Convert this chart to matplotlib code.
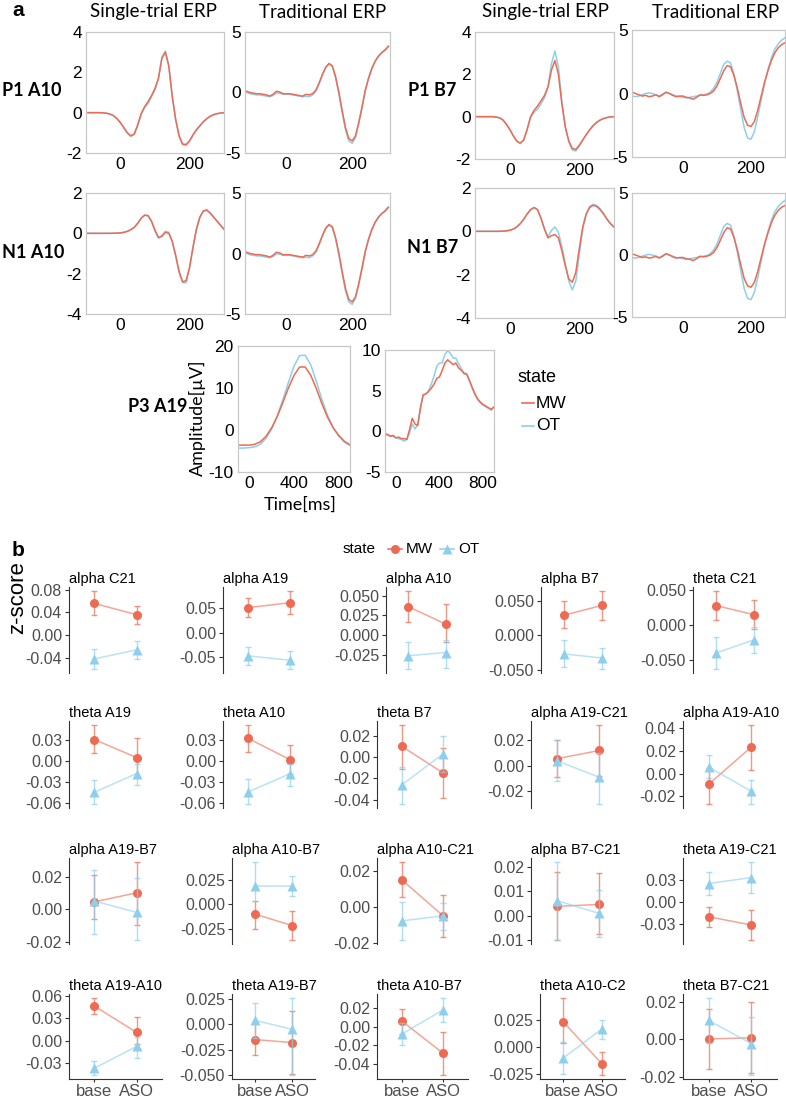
import numpy as np
import matplotlib
matplotlib.use("Agg")
import matplotlib.pyplot as plt
from matplotlib.lines import Line2D

plt.rcParams["axes.unicode_minus"] = False

W, H = 786, 1100
MW_RED = "#EF6A52"
OT_BLUE = "#8DCFEC"
SANS = "Liberation Sans"
CAL = "Lato"

# ---------------- panel a: ERP traces (uV) ----------------
T_ST = list(range(-100, 301, 10))          # single-trial time axis, ms
T_TR_A10 = list(range(-130, 311, 10))      # traditional A10
T_TR_B7 = list(range(-150, 301, 10))       # traditional B7
T_P3_ST = list(range(-100, 901, 50))
T_P3_TR = list(range(-100, 901, 25))

P1_A10_ST_MW = [0, 0, 0, 0, 0, -0.01, -0.03, -0.07, -0.15, -0.3,
                -0.5, -0.75, -1.0, -1.15, -1.05, -0.6, -0.05, 0.3, 0.55, 0.85,
                1.2, 1.7, 2.7, 3.0, 2.3, 0.8, -0.35, -1.15, -1.55, -1.58,
                -1.4, -1.1, -0.85, -0.65, -0.45, -0.3, -0.18, -0.1, -0.05, -0.02, 0]
P1_A10_ST_OT = [0, 0, 0, 0, 0, -0.01, -0.03, -0.07, -0.15, -0.3,
                -0.5, -0.76, -1.02, -1.18, -1.08, -0.62, -0.07, 0.25, 0.45, 0.8,
                1.15, 1.7, 2.75, 3.05, 2.35, 0.82, -0.36, -1.18, -1.6, -1.62,
                -1.42, -1.12, -0.86, -0.66, -0.46, -0.3, -0.18, -0.1, -0.05, -0.02, 0]
N1_A10_ST_MW = [0, 0, 0, 0, 0, 0, 0, 0, 0.005, 0.01,
                0.02, 0.05, 0.1, 0.18, 0.3, 0.5, 0.75, 0.9, 0.88, 0.6,
                0.15, -0.2, -0.15, 0.05, 0.0, -0.4, -1.1, -1.9, -2.4, -2.35,
                -1.7, -0.7, 0.2, 0.8, 1.1, 1.15, 1.0, 0.8, 0.6, 0.4, 0.2]
N1_A10_ST_OT = [0, 0, 0, 0, 0, 0, 0, 0, 0.005, 0.01,
                0.02, 0.05, 0.1, 0.18, 0.3, 0.5, 0.75, 0.9, 0.86, 0.58,
                0.12, -0.25, -0.1, 0.1, 0.05, -0.38, -1.12, -1.95, -2.45, -2.45,
                -1.75, -0.72, 0.2, 0.8, 1.12, 1.17, 1.02, 0.82, 0.6, 0.4, 0.2]
TR_A10_MW = [0.15, 0.1, 0.0, -0.05, -0.1, -0.1, -0.15, -0.2, -0.3, -0.15,
             0.1, 0.05, -0.1, -0.1, -0.1, -0.15, -0.2, -0.25, -0.3, -0.15,
             -0.2, -0.1, 0.2, 0.8, 1.5, 2.1, 2.4, 2.2, 1.3, 0.0,
             -1.5, -2.9, -3.8, -4.0, -3.6, -2.5, -1.2, 0.2, 1.2, 2.0,
             2.6, 3.0, 3.3, 3.5, 3.8]
TR_A10_OT = [0.05, 0.0, -0.1, -0.15, -0.2, -0.2, -0.25, -0.3, -0.35, -0.25,
             -0.05, -0.05, -0.15, -0.15, -0.15, -0.2, -0.25, -0.3, -0.35, -0.3,
             -0.35, -0.2, 0.1, 0.7, 1.45, 2.05, 2.35, 2.15, 1.2, -0.15,
             -1.7, -3.1, -4.0, -4.2, -3.75, -2.6, -1.3, 0.1, 1.15, 1.95,
             2.55, 3.0, 3.3, 3.55, 3.85]
P1_B7_ST_MW = [0, 0, 0, 0, 0, 0, -0.02, -0.05, -0.15, -0.35,
               -0.6, -0.9, -1.15, -1.25, -1.1, -0.6, 0.0, 0.3, 0.5, 0.75,
               1.0, 1.4, 2.2, 2.65, 2.0, 0.6, -0.5, -1.15, -1.5, -1.55,
               -1.35, -1.1, -0.85, -0.62, -0.42, -0.27, -0.16, -0.09, -0.04, -0.01, 0]
P1_B7_ST_OT = [0, 0, 0, 0, 0, 0, -0.02, -0.05, -0.15, -0.35,
               -0.6, -0.9, -1.15, -1.27, -1.12, -0.62, -0.02, 0.2, 0.35, 0.6,
               0.9, 1.4, 2.5, 3.1, 2.35, 0.7, -0.5, -1.2, -1.58, -1.62,
               -1.4, -1.12, -0.86, -0.63, -0.43, -0.27, -0.16, -0.09, -0.04, -0.01, 0]
N1_B7_ST_MW = [0, 0, 0, 0, 0, 0, 0, 0, 0.01, 0.02,
               0.05, 0.1, 0.2, 0.35, 0.55, 0.8, 1.0, 1.1, 1.0, 0.6,
               0.1, -0.3, -0.2, -0.15, -0.3, -0.9, -1.6, -2.2, -2.35, -1.9,
               -0.8, 0.2, 0.8, 1.1, 1.2, 1.15, 1.0, 0.8, 0.55, 0.35, 0.2]
N1_B7_ST_OT = [0, 0, 0, 0, 0, 0, 0, 0, 0.01, 0.02,
               0.05, 0.1, 0.2, 0.35, 0.55, 0.8, 1.0, 1.1, 1.0, 0.6,
               0.1, -0.25, 0.05, 0.2, -0.05, -0.7, -1.5, -2.3, -2.7, -2.3,
               -1.1, 0.1, 0.8, 1.15, 1.25, 1.2, 1.05, 0.82, 0.57, 0.36, 0.2]
TR_B7_MW = [0.1, 0.0, -0.1, -0.2, -0.15, -0.25, -0.2, -0.1, -0.25, -0.1,
            0.1, 0.0, -0.15, -0.25, -0.2, -0.2, -0.3, -0.35, -0.45, -0.3,
            -0.1, -0.15, -0.1, 0.0, 0.2, 0.6, 1.2, 1.8, 2.2, 2.1,
            1.4, 0.4, -0.8, -1.9, -2.5, -2.6, -2.2, -1.3, -0.2, 0.9,
            1.8, 2.6, 3.2, 3.6, 3.85, 4.0]
TR_B7_OT = [-0.2, -0.25, -0.2, -0.1, 0.0, 0.05, 0.0, -0.1, -0.2, -0.05,
            0.1, 0.0, -0.1, -0.2, -0.25, -0.3, -0.35, -0.3, -0.25, -0.2,
            -0.15, -0.1, -0.05, 0.1, 0.4, 0.9, 1.6, 2.3, 2.55, 2.4,
            1.5, 0.2, -1.3, -2.7, -3.5, -3.6, -3.0, -1.8, -0.5, 0.8,
            1.9, 2.8, 3.5, 3.9, 4.2, 4.4]
P3_ST_MW = [-3.6, -3.6, -3.6, -3.4, -2.8, -1.5, 0.5, 3.2, 6.5, 10.0, 13.0,
            15.0, 15.0, 13.0, 9.8, 6.2, 3.0, 0.5, -1.3, -2.7, -3.5]
P3_ST_OT = [-4.3, -4.3, -4.2, -4.0, -3.4, -2.0, 0.2, 3.3, 7.2, 11.3, 15.2,
            17.7, 17.8, 15.5, 11.5, 7.2, 3.5, 0.6, -1.5, -2.9, -3.7]
P3_TR_MW = [-0.3, -0.4, -0.6, -0.5, -0.8, -0.7, -0.9, -0.9, -1.0, 0.2,
            1.6, 0.9, 0.7, 2.8, 4.5, 4.6, 4.9, 5.3, 5.8, 6.5,
            6.7, 7.5, 8.4, 8.8, 8.5, 8.2, 8.4, 7.8, 7.5, 7.1,
            7.0, 6.2, 5.4, 4.6, 4.0, 3.6, 3.3, 3.1, 2.9, 2.7, 3.0]
P3_TR_OT = [-0.3, -0.5, -0.6, -0.6, -0.8, -0.9, -1.0, -1.2, -1.0, -0.2,
            0.9, 0.3, 0.8, 3.0, 4.4, 4.6, 5.0, 5.8, 6.8, 8.0,
            8.4, 8.4, 9.5, 9.9, 9.6, 9.0, 9.0, 8.3, 7.7, 7.2,
            7.1, 6.3, 5.3, 4.5, 3.9, 3.5, 3.2, 3.0, 2.8, 2.6, 3.0]

# ---------------- panel b: z-scores, [base, ASO] ----------------
LEVELS = ["base", "ASO"]
TITLES = ["alpha C21", "alpha A19", "alpha A10", "alpha B7", "theta C21",
          "theta A19", "theta A10", "theta B7", "alpha A19-C21", "alpha A19-A10",
          "alpha A19-B7", "alpha A10-B7", "alpha A10-C21", "alpha B7-C21", "theta A19-C21",
          "theta A19-A10", "theta A19-B7", "theta A10-B7", "theta A10-C2", "theta B7-C21"]
MW_MEAN = [[0.056, 0.036], [0.051, 0.061], [0.036, 0.014], [0.029, 0.043], [0.028, 0.015],
           [0.031, 0.005], [0.032, 0.002], [0.010, -0.015], [0.0055, 0.012], [-0.0095, 0.0235],
           [0.0045, 0.010], [-0.010, -0.022], [0.015, -0.005], [0.0038, 0.0046], [-0.0197, -0.0307],
           [0.046, 0.011], [-0.015, -0.018], [0.0063, -0.0285], [0.023, -0.0155], [0.0002, 0.0008]]
MW_LO = [[0.035, 0.020], [0.031, 0.038], [0.016, -0.009], [0.010, 0.022], [0.007, -0.006],
         [0.012, -0.023], [0.013, -0.018], [-0.011, -0.038], [-0.009, -0.008], [-0.027, 0.0035],
         [-0.006, -0.010], [-0.025, -0.037], [0.0055, -0.017], [-0.010, -0.0077], [-0.034, -0.051],
         [0.0354, -0.005], [-0.030, -0.049], [-0.0077, -0.052], [0.0036, -0.026], [-0.016, -0.018]]
MW_HI = [[0.078, 0.052], [0.071, 0.085], [0.056, 0.039], [0.049, 0.064], [0.049, 0.036],
         [0.052, 0.033], [0.051, 0.022], [0.030, 0.008], [0.020, 0.032], [0.005, 0.043],
         [0.021, 0.029], [0.004, -0.007], [0.025, 0.0067], [0.018, 0.0175], [-0.0066, -0.011],
         [0.057, 0.031], [0.0015, 0.013], [0.0195, -0.0052], [0.045, -0.005], [0.016, 0.020]]
OT_MEAN = [[-0.042, -0.026], [-0.047, -0.056], [-0.026, -0.022], [-0.027, -0.033], [-0.040, -0.021],
           [-0.045, -0.018], [-0.044, -0.018], [-0.026, 0.003], [0.004, -0.009], [0.0057, -0.0157],
           [0.005, -0.002], [0.019, 0.019], [-0.0078, -0.005], [0.0062, 0.0009], [0.025, 0.033],
           [-0.0367, -0.0078], [0.004, -0.005], [-0.0077, 0.0184], [-0.0104, 0.0164], [0.010, -0.0023]]
OT_LO = [[-0.060, -0.043], [-0.066, -0.074], [-0.043, -0.041], [-0.046, -0.049], [-0.063, -0.040],
         [-0.062, -0.034], [-0.061, -0.035], [-0.044, -0.014], [-0.012, -0.030], [-0.004, -0.027],
         [-0.015, -0.019], [0.004, 0.009], [-0.0185, -0.013], [-0.010, -0.0087], [0.0096, 0.012],
         [-0.046, -0.0225], [-0.013, -0.050], [-0.020, 0.0052], [-0.025, 0.0068], [-0.002, -0.019]]
OT_HI = [[-0.024, -0.011], [-0.029, -0.038], [-0.009, -0.006], [-0.007, -0.018], [-0.017, -0.002],
         [-0.027, -0.004], [-0.025, -0.004], [-0.009, 0.020], [0.020, 0.010], [0.016, -0.006],
         [0.024, 0.019], [0.044, 0.029], [0.0027, 0.002], [0.022, 0.0105], [0.041, 0.054],
         [-0.027, 0.005], [0.021, 0.026], [0.0045, 0.0313], [0.004, 0.025], [0.022, 0.012]]
YTICKS = [[-0.04, 0.0, 0.04, 0.08], [-0.05, 0.0, 0.05], [-0.025, 0.0, 0.025, 0.05],
          [-0.05, 0.0, 0.05], [-0.05, 0.0, 0.05],
          [-0.06, -0.03, 0.0, 0.03], [-0.06, -0.03, 0.0, 0.03], [-0.04, -0.02, 0.0, 0.02],
          [-0.02, 0.0, 0.02], [-0.02, 0.0, 0.02, 0.04],
          [-0.02, 0.0, 0.02], [-0.025, 0.0, 0.025], [-0.02, 0.0, 0.02],
          [-0.01, 0.0, 0.01, 0.02], [-0.03, 0.0, 0.03],
          [-0.03, 0.0, 0.03, 0.06], [-0.05, -0.025, 0.0, 0.025], [-0.04, -0.02, 0.0, 0.02],
          [-0.025, 0.0, 0.025], [-0.02, 0.0, 0.02]]
YDEC = [2, 2, 3, 3, 3, 2, 2, 2, 2, 2, 2, 3, 2, 2, 2, 2, 3, 2, 3, 2]


def rect(l, t, r, b):
    return [l / W, 1 - b / H, (r - l) / W, (b - t) / H]


def ftext(x, y, s, **kw):
    fig.text(x / W, 1 - y / H, s, **kw)


fig = plt.figure(figsize=(W / 100, H / 100), dpi=100)


def erp_axes(box, t, mw, ot, xlim, ylim, xticks, yticks):
    ax = fig.add_axes(rect(*box))
    ax.plot(t, ot, color=OT_BLUE, lw=1.1)
    ax.plot(t, mw, color=MW_RED, lw=1.1)
    ax.set_xlim(xlim)
    ax.set_ylim(ylim)
    ax.set_xticks(xticks)
    ax.set_yticks(yticks)
    for s in ax.spines.values():
        s.set_color("#C8C8C8")
        s.set_linewidth(0.9)
    ax.tick_params(length=0, pad=3, labelsize=12.5)
    for lab in ax.get_xticklabels() + ax.get_yticklabels():
        lab.set_fontfamily(SANS)
    return ax


erp_axes((86, 32, 224, 153), T_ST, P1_A10_ST_MW, P1_A10_ST_OT, (-100, 300), (-2, 4), [0, 200], [-2, 0, 2, 4])
erp_axes((245, 32, 390, 153), T_TR_A10, TR_A10_MW, TR_A10_OT, (-125, 315), (-5, 5), [0, 200], [-5, 0, 5])
erp_axes((86, 193, 224, 314), T_ST, N1_A10_ST_MW, N1_A10_ST_OT, (-100, 300), (-4, 2), [0, 200], [-4, -2, 0, 2])
erp_axes((245, 193, 390, 314), T_TR_A10, TR_A10_MW, TR_A10_OT, (-125, 315), (-5, 5), [0, 200], [-5, 0, 5])
erp_axes((475, 32, 614, 159), T_ST, P1_B7_ST_MW, P1_B7_ST_OT, (-100, 300), (-2, 4), [0, 200], [-2, 0, 2, 4])
erp_axes((632, 30, 785, 157), T_TR_B7, TR_B7_MW, TR_B7_OT, (-150, 300), (-5, 5), [0, 200], [-5, 0, 5])
erp_axes((475, 188, 614, 318), T_ST, N1_B7_ST_MW, N1_B7_ST_OT, (-100, 300), (-4, 2), [0, 200], [-4, -2, 0, 2])
erp_axes((632, 193, 785, 317), T_TR_B7, TR_B7_MW, TR_B7_OT, (-150, 300), (-5, 5), [0, 200], [-5, 0, 5])
erp_axes((238, 346, 350, 472), T_P3_ST, P3_ST_MW, P3_ST_OT, (-100, 900), (-10, 20), [0, 400, 800], [-10, 0, 10, 20])
erp_axes((385, 350, 494, 472), T_P3_TR, P3_TR_MW, P3_TR_OT, (-100, 900), (-5, 10), [0, 400, 800], [-5, 0, 5, 10])

ftext(12, 10, "a", fontsize=15, fontweight="bold", family=SANS, va="center")
for x, s in [(154, "Single-trial ERP"), (323, "Traditional ERP"),
             (546, "Single-trial ERP"), (716, "Traditional ERP")]:
    ftext(x, 12, s, fontsize=13.5, family=CAL, ha="center", va="center")
for x, y, s in [(2, 90, "P1 A10"), (2, 252, "N1 A10"), (408, 90, "P1 B7"),
                (407, 247, "N1 B7"), (128, 406, "P3 A19")]:
    ftext(x, y, s, fontsize=13, family=CAL, fontweight="bold", va="center")
ftext(197, 418, "Amplitude[\u00b5V]", fontsize=13, family=CAL, rotation=90, ha="center", va="center")
ftext(300, 505, "Time[ms]", fontsize=13, family=CAL, ha="center", va="center")

# legend of panel a
ftext(518, 377, "state", fontsize=13, family=SANS, va="center")
for y, c, s in [(403, MW_RED, "MW"), (426, OT_BLUE, "OT")]:
    fig.add_artist(Line2D([522 / W, 534 / W], [1 - y / H, 1 - y / H], color=c, lw=1.2))
    ftext(536, y, s, fontsize=12.5, family=SANS, va="center")

# ---------------- panel b layout ----------------
ROW_BOX = [(587, 673), (721, 808), (858, 944), (994, 1079)]
COL_RIGHT = [162, 315, 468, 625, 777]
LEFTS = [[69, 223, 386, 541, 693],
         [69, 223, 377, 531, 683],
         [69, 232, 377, 531, 683],
         [69, 232, 377, 540, 683]]

for i, title in enumerate(TITLES):
    r, c = divmod(i, 5)
    top, bot = ROW_BOX[r]
    left, right = LEFTS[r][c], COL_RIGHT[c]
    ax = fig.add_axes(rect(left, top, right, bot))
    x = [1, 2]
    for mean, lo, hi, col, mk, ms in [(MW_MEAN[i], MW_LO[i], MW_HI[i], MW_RED, "o", 6.5),
                                      (OT_MEAN[i], OT_LO[i], OT_HI[i], OT_BLUE, "^", 7)]:
        m = np.array(mean)
        err = [m - np.array(lo), np.array(hi) - m]
        ax.plot(x, m, color=col, lw=1.1, alpha=0.6)
        ax.errorbar(x, m, yerr=err, fmt="none", ecolor=col, elinewidth=1.0,
                    capsize=2.5, capthick=1.0, alpha=0.7)
        ax.plot(x, m, mk, color=col, ms=ms, mec="none")
    lo_all = min(min(MW_LO[i]), min(OT_LO[i]))
    hi_all = max(max(MW_HI[i]), max(OT_HI[i]))
    pad = 0.05 * (hi_all - lo_all)
    ax.set_ylim(lo_all - pad, hi_all + pad)
    ax.set_xlim(0.4, 2.6)
    ax.set_yticks(YTICKS[i])
    ax.set_yticklabels([f"{v:.{YDEC[i]}f}" for v in YTICKS[i]])
    ax.spines["top"].set_visible(False)
    ax.spines["right"].set_visible(False)
    ax.spines["left"].set_color("#333333")
    ax.spines["left"].set_linewidth(0.8)
    ax.tick_params(axis="y", length=3, width=0.8, color="#333333", pad=2,
                   labelsize=11.5, labelcolor="#4D4D4D")
    if r == 3:
        ax.set_xticks(x)
        ax.set_xticklabels(LEVELS)
        ax.spines["bottom"].set_color("#333333")
        ax.spines["bottom"].set_linewidth(0.8)
        ax.tick_params(axis="x", length=2.5, width=0.8, color="#333333", pad=1,
                       labelsize=12, labelcolor="#4D4D4D")
    else:
        ax.spines["bottom"].set_visible(False)
        ax.set_xticks([])
    for lab in ax.get_xticklabels() + ax.get_yticklabels():
        lab.set_fontfamily(SANS)
    ax.set_title(title, loc="left", fontsize=10.5, family=SANS, pad=3)

ftext(12, 551, "b", fontsize=15, fontweight="bold", family=SANS, va="center")
ftext(18, 598, "z-score", fontsize=16, family=SANS, rotation=90, ha="center", va="center")
ftext(359, 549, "state", fontsize=11, family=SANS, ha="center", va="center")
for xm, c, mk, s in [(395, MW_RED, "o", "MW"), (447, OT_BLUE, "^", "OT")]:
    fig.add_artist(Line2D([(xm - 7) / W, (xm + 7) / W], [1 - 549 / H, 1 - 549 / H], color=c, lw=1.1))
    fig.add_artist(Line2D([xm / W], [1 - 549 / H], marker=mk, color=c, ms=6.5, mec="none"))
    ftext(xm + 11, 549, s, fontsize=11, family=SANS, va="center")

fig.savefig("out.png", dpi=100)
